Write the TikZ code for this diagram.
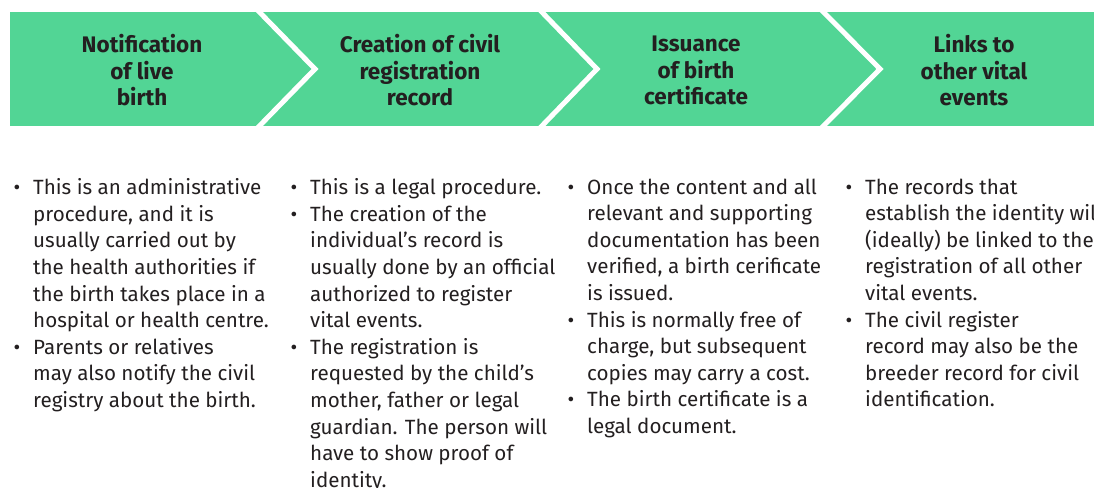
\documentclass[tikz,border=0pt]{standalone}
\usepackage{fontspec}
\setmainfont{Fira Sans}
\definecolor{band}{HTML}{52D595}
\definecolor{ink}{HTML}{231F20}
% bullet hung into the left margin of a list line
\newcommand\bul{\makebox[0pt][r]{\textbullet\hspace{13pt}}}
\begin{document}
\begin{tikzpicture}[x=1pt,y=-1pt,
  head/.style={font=\fontsize{22.5}{26.5}\selectfont\bfseries, text=ink, align=center, inner sep=0pt, anchor=center},
  body/.style={font=\fontsize{20.6}{26.6}\selectfont, text=ink, align=left, inner sep=0pt, anchor=north west},
  sep/.style={draw=white, line width=5pt, miter limit=10}]
\useasboundingbox (0,0) rectangle (1094,487);
\begin{scope}
\clip (0,0) rectangle (1094,487);
% the green process band and its chevron separators
\begin{scope}
  \path[fill=band] (10,12) rectangle (1100,126);
  \clip (10,12) rectangle (1100,126);
  \foreach \x/\t in {259.5/315, 542/597, 823.5/880}
    \draw[sep] (\x-5,7) -- (\t,69) -- (\x-5,131);
\end{scope}
% step titles
\node[head] (h1) at (142,70.5) {Notification\\of live\\birth};
\node[head] (h2) at (420,70.5) {Creation of civil\\registration\\record};
\node[head] (h3) at (696,70.5) {Issuance\\of birth\\certificate};
\node[head] (h4) at (974,70.5) {Links to\\other vital\\events};
% step descriptions
\node[body] (b1) at (33,178.5) {\bul This is an administrative\\procedure, and it is\\usually carried out by\\the health authorities if\\the birth takes place in a\\hospital or health centre.\\\bul Parents or relatives\\may also notify the civil\\registry about the birth.};
\node[body] (b2) at (310,178.5) {\bul This is a legal procedure.\\\bul The creation of the\\individual’s record is\\usually done by an official\\authorized to register\\vital events.\\\bul The registration is\\requested by the child’s\\mother, father or legal\\guardian. The person will\\have to show proof of\\identity.};
\node[body] (b3) at (587,178.5) {\bul Once the content and all\\relevant and supporting\\documentation has been\\verified, a birth cerificate\\is issued.\\\bul This is normally free of\\charge, but subsequent\\copies may carry a cost.\\\bul The birth certificate is a\\legal document.};
\node[body] (b4) at (865,178.5) {\bul The records that\\establish the identity will\\(ideally) be linked to the\\registration of all other\\vital events.\\\bul The civil register\\record may also be the\\breeder record for civil\\identification.};
\end{scope}
\end{tikzpicture}
\end{document}
